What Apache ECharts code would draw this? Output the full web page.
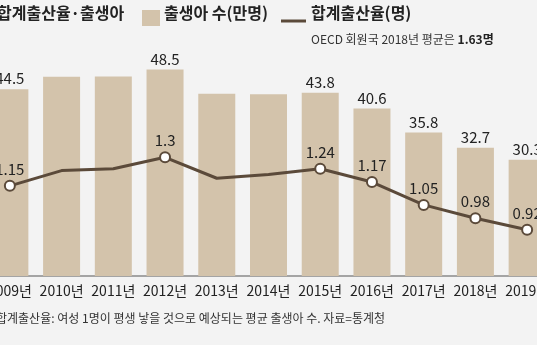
<!DOCTYPE html>
<html><head><meta charset="utf-8">
<script src="https://cdn.jsdelivr.net/npm/echarts@6/dist/echarts.min.js"></script>
<style>html,body{margin:0;padding:0;background:#f3f3f3;}#c{width:537px;height:345px;}</style>
</head><body><div id="c"></div>
<script>
var years = ['2009년','2010년','2011년','2012년','2013년','2014년','2015년','2016년','2017년','2018년','2019년'];
var births = [44.5, 47.0, 47.1, 48.5, 43.6, 43.5, 43.8, 40.6, 35.8, 32.7, 30.3];
var tfr = [1.15, 1.23, 1.24, 1.30, 1.19, 1.21, 1.24, 1.17, 1.05, 0.98, 0.92];
var labeled = [true, false, false, true, false, false, true, true, true, true, true];
var titleText = '합계출산율·출생아';
var barName = '출생아 수(만명)';
var lineName = '합계출산율(명)';
var noteText = 'OECD 회원국 2018년 평균은 ';
var noteBold = '1.63명';
var footText = '합계출산율: 여성 1명이 평생 낳을 것으로 예상되는 평균 출생아 수. 자료=통계청';

var NUMF = "'Liberation Sans Narrow','Noto Sans CJK KR',sans-serif";
var KRF = "'Noto Sans CJK KR',sans-serif";
var BAR = '#d3c3ab', LINE = '#5b4a3a';

var chart = echarts.init(document.getElementById('c'));
chart.setOption({
  backgroundColor: '#f3f3f3',
  animation: false,
  grid: {left: -16, right: -16, top: 62, bottom: 69, containLabel: false, outerBoundsMode: 'none'},
  xAxis: {
    type: 'category', data: years,
    axisLine: {lineStyle: {color: '#8a8a8a', width: 1.5}},
    axisTick: {show: false},
    axisLabel: {color: '#222', fontFamily: NUMF, fontSize: 14, margin: 8, interval: 0}
  },
  yAxis: [
    {type: 'value', min: 6.84, max: 50, show: false, splitLine: {show: false}},
    {type: 'value', min: 0.677, max: 1.80, show: false, splitLine: {show: false}}
  ],
  series: [
    {
      type: 'bar', yAxisIndex: 0, barWidth: 37,
      itemStyle: {color: BAR},
      data: births.map(function (v, i) {
        return {value: v, label: {show: labeled[i]}};
      }),
      label: {position: 'top', distance: 3, color: '#222', fontFamily: NUMF, fontSize: 15}
    },
    {
      type: 'line', yAxisIndex: 1,
      lineStyle: {color: LINE, width: 3},
      itemStyle: {color: '#fff', borderColor: LINE, borderWidth: 2},
      symbolSize: 10,
      data: tfr.map(function (v, i) {
        return {value: v, symbol: labeled[i] ? 'circle' : 'none', label: {show: labeled[i]}};
      }),
      label: {position: 'top', distance: 3, color: '#222', fontFamily: NUMF, fontSize: 15},
      z: 5
    }
  ],
  graphic: [
    {type: 'text', left: -3, top: 5, style: {text: titleText, font: 'bold 16px ' + KRF, fill: '#222'}},
    {type: 'rect', shape: {x: 142, y: 10, width: 18, height: 16}, style: {fill: BAR}},
    {type: 'text', left: 164, top: 5, style: {text: barName, font: 'bold 16px ' + KRF, fill: '#222'}},
    {type: 'line', shape: {x1: 281, y1: 21, x2: 306, y2: 21}, style: {stroke: LINE, lineWidth: 3}},
    {type: 'text', left: 311, top: 5, style: {text: lineName, font: 'bold 16px ' + KRF, fill: '#222'}},
    {type: 'text', left: 311, top: 33, style: {
      text: '{a|' + noteText + '}{b|' + noteBold + '}',
      rich: {a: {font: '12px ' + KRF, fill: '#333'}, b: {font: 'bold 12px ' + KRF, fill: '#222'}}
    }},
    {type: 'text', left: -4, top: 312, style: {text: footText, font: '12px ' + KRF, fill: '#333'}}
  ]
});
</script></body></html>
